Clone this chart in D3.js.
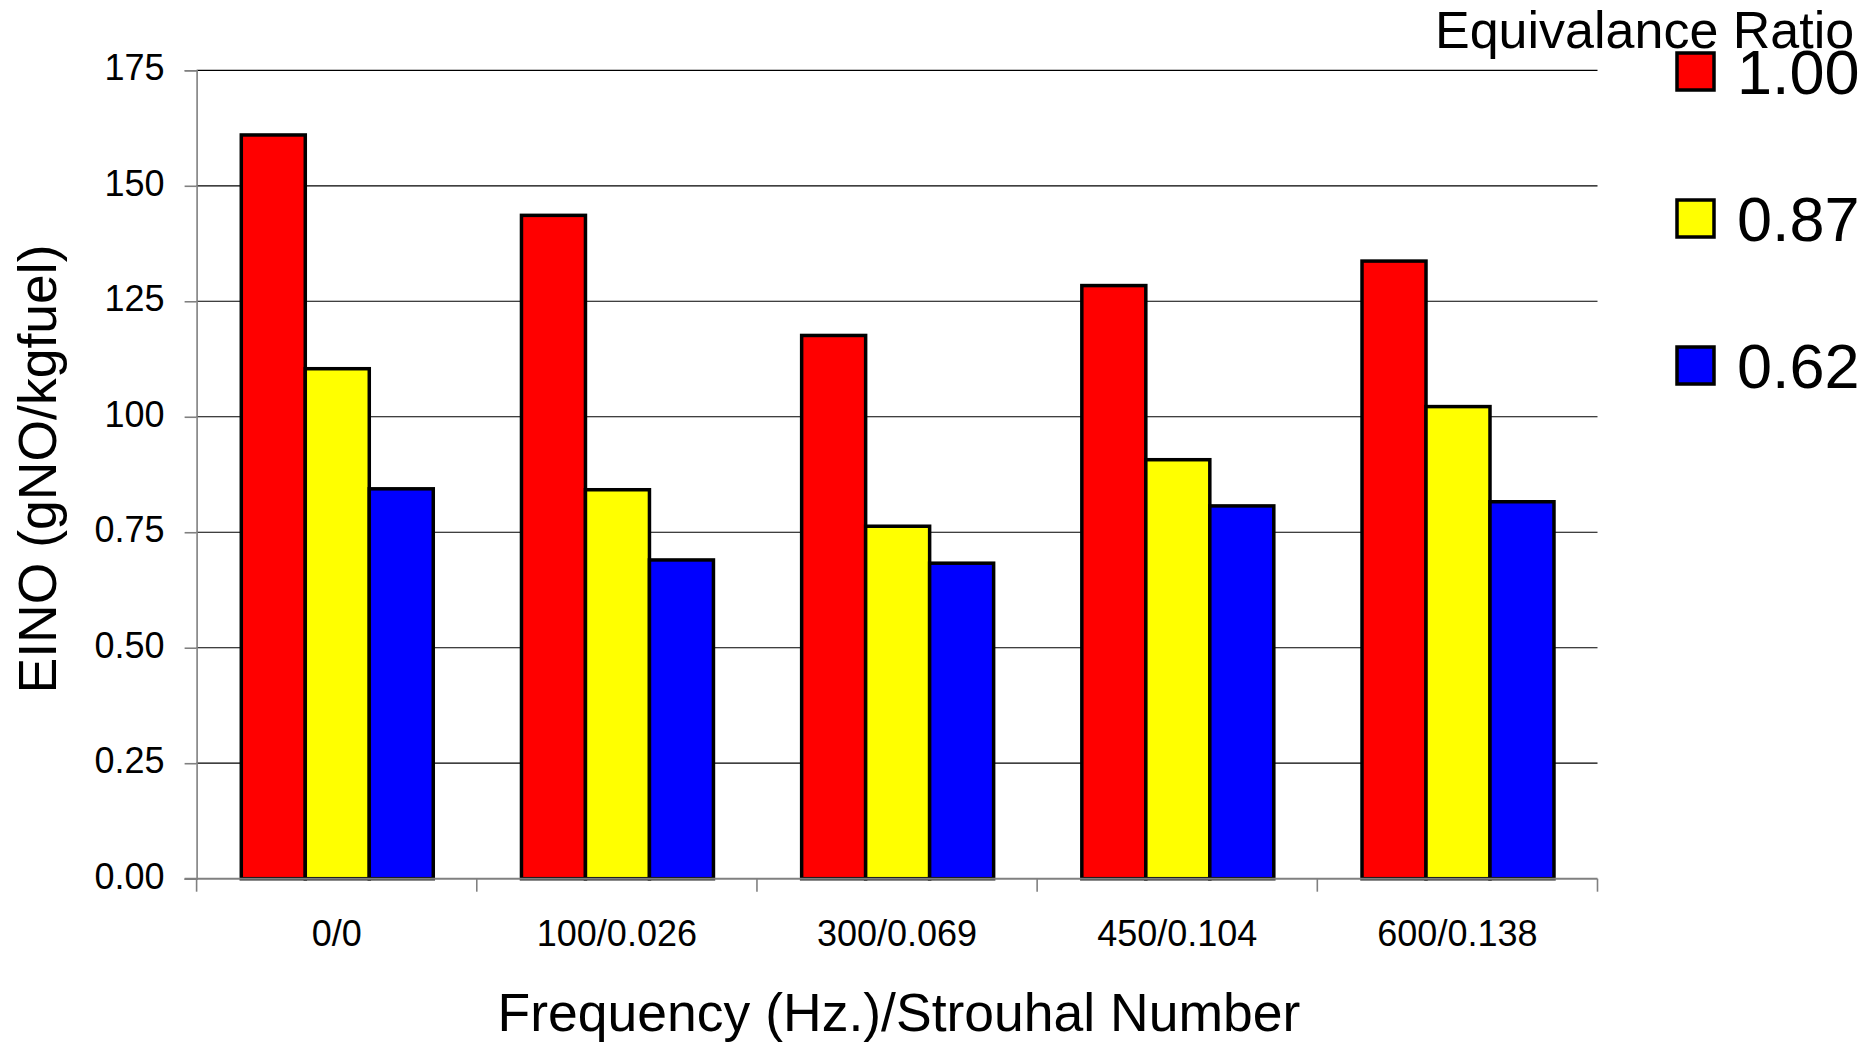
<!DOCTYPE html>
<html>
<head>
<meta charset="utf-8">
<script src="https://cdn.jsdelivr.net/npm/d3@7"></script>
<style>
  html, body { margin: 0; padding: 0; background: #ffffff; }
  svg { display: block; font-family: "Liberation Sans", Arial, sans-serif; }
</style>
</head>
<body>
<svg id="chart" width="1868" height="1043"></svg>
<script>
// Frequency / Strouhal number groups
const categories = ["0/0", "100/0.026", "300/0.069", "450/0.104", "600/0.138"];

// Equivalence ratio series
const seriesNames = ["1.00", "0.87", "0.62"];
const seriesColors = ["#ff0000", "#ffff00", "#0000ff"];

// EINO values per group for each equivalence ratio
const phi100 = [161.0, 143.6, 117.6, 128.4, 133.7];
const phi087 = [110.4, 84.2, 76.3, 90.7, 102.2];
const phi062 = [84.4, 69.0, 68.3, 80.7, 81.6];

// Value-axis ticks and their printed labels
const yTickValues = [0, 25, 50, 75, 100, 125, 150, 175];
const yTickLabels = ["0.00", "0.25", "0.50", "0.75", "100", "125", "150", "175"];

const seriesValues = [phi100, phi087, phi062];

const svg = d3.select("#chart");
svg.append("rect").attr("width", 1868).attr("height", 1043).attr("fill", "#ffffff");

const plot = { left: 196.6, right: 1597.5, top: 70.3, bottom: 878.7 };

const x0 = d3.scaleBand().domain(categories).range([plot.left, plot.right]).padding(0);
const bw = x0.bandwidth();
const x1 = d3.scaleBand().domain(seriesNames).range([bw * 0.1595, bw * 0.8447]).padding(0);
const y = d3.scaleLinear().domain([0, 175]).range([plot.bottom, plot.top]);

// Horizontal gridlines
svg.append("g")
  .selectAll("line")
  .data(yTickValues.filter(v => v > 0))
  .join("line")
  .attr("x1", plot.left)
  .attr("x2", plot.right)
  .attr("y1", d => y(d))
  .attr("y2", d => y(d))
  .attr("stroke", "#000000")
  .attr("stroke-width", 1.2);

// Value axis
const yAxis = d3.axisLeft(y)
  .tickValues(yTickValues)
  .tickFormat((d, i) => yTickLabels[i])
  .tickSize(12)
  .tickPadding(20);

const gy = svg.append("g")
  .attr("transform", `translate(${plot.left},0)`)
  .call(yAxis);
gy.select(".domain").attr("stroke", "#808080").attr("stroke-width", 1.6);
gy.selectAll(".tick line").attr("stroke", "#808080").attr("stroke-width", 1.6);
gy.selectAll(".tick text")
  .attr("font-size", 36)
  .attr("font-family", "'Liberation Sans', Arial, sans-serif")
  .attr("fill", "#000000")
  .attr("dy", "0.26em");

// Bars
const groups = svg.append("g")
  .selectAll("g")
  .data(categories)
  .join("g")
  .attr("transform", d => `translate(${x0(d)},0)`);

groups.selectAll("rect")
  .data((c, ci) => seriesNames.map((s, si) => ({ s, si, v: seriesValues[si][ci] })))
  .join("rect")
  .attr("x", d => x1(d.s))
  .attr("width", x1.bandwidth())
  .attr("y", d => y(d.v))
  .attr("height", d => y(0) - y(d.v))
  .attr("fill", d => seriesColors[d.si])
  .attr("stroke", "#000000")
  .attr("stroke-width", 3.5);

// Category axis baseline and group separators
const gx = svg.append("g");
gx.append("line")
  .attr("x1", plot.left - 12)
  .attr("x2", plot.right)
  .attr("y1", y(0))
  .attr("y2", y(0))
  .attr("stroke", "#808080")
  .attr("stroke-width", 2);

const boundaries = categories.map(c => x0(c)).concat([x0.range()[1]]);
gx.selectAll("line.sep")
  .data(boundaries)
  .join("line")
  .attr("class", "sep")
  .attr("x1", d => d)
  .attr("x2", d => d)
  .attr("y1", y(0))
  .attr("y2", y(0) + 13)
  .attr("stroke", "#808080")
  .attr("stroke-width", 1.6);

const xAxis = d3.axisBottom(x0).tickSize(0).tickPadding(42);
const gxa = svg.append("g")
  .attr("transform", `translate(0,${plot.bottom})`)
  .call(xAxis);
gxa.select(".domain").remove();
gxa.selectAll(".tick text")
  .attr("font-size", 36)
  .attr("font-family", "'Liberation Sans', Arial, sans-serif")
  .attr("fill", "#000000");

// Axis titles
svg.append("text")
  .attr("transform", "translate(56,469) rotate(-90)")
  .attr("text-anchor", "middle")
  .attr("font-size", 53.5)
  .attr("fill", "#000000")
  .text("EINO (gNO/kgfuel)");

svg.append("text")
  .attr("x", 899)
  .attr("y", 1031)
  .attr("text-anchor", "middle")
  .attr("font-size", 53.5)
  .attr("fill", "#000000")
  .text("Frequency (Hz.)/Strouhal Number");

// Legend
const legend = svg.append("g");
legend.append("text")
  .attr("x", 1435)
  .attr("y", 48)
  .attr("font-size", 52)
  .attr("fill", "#000000")
  .text("Equivalance Ratio");

const legendY = d3.scalePoint().domain(seriesNames).range([53, 347]);
const items = legend.selectAll("g.item")
  .data(seriesNames)
  .join("g")
  .attr("class", "item")
  .attr("transform", d => `translate(0,${legendY(d)})`);

items.append("rect")
  .attr("x", 1677)
  .attr("y", 0)
  .attr("width", 37)
  .attr("height", 37)
  .attr("fill", (d, i) => seriesColors[i])
  .attr("stroke", "#000000")
  .attr("stroke-width", 3.5);

items.append("text")
  .attr("x", 1737)
  .attr("y", 41)
  .attr("font-size", 63)
  .attr("fill", "#000000")
  .text(d => d);
</script>
</body>
</html>
